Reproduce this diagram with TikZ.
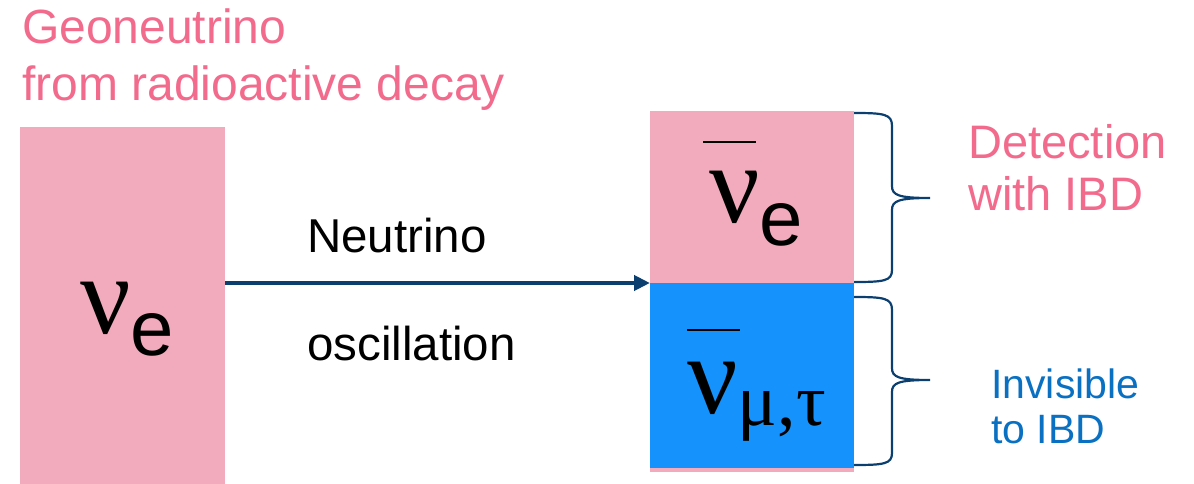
\documentclass[tikz,border=0pt]{standalone}
\usepackage{fontspec}
\setmainfont{Liberation Sans}
\newfontfamily\grkfont{Liberation Serif}
\definecolor{boxpink}{HTML}{F2ABBD}
\definecolor{boxblue}{HTML}{1592FB}
\definecolor{txtpink}{HTML}{F26A8C}
\definecolor{txtblue}{HTML}{0A70C2}
\definecolor{navy}{HTML}{0B3F70}
\tikzset{
  lbl/.style={inner sep=0pt, anchor=base west, align=left},
  pinktxt/.style={lbl, text=txtpink},
  nufnt/.style={lbl, font=\grkfont\fontsize{112}{112}\selectfont},
  brace/.style={draw=navy, line width=2.2pt},
  arr/.style={draw=navy, line width=4.5pt, -{Triangle[length=16pt,width=15pt]}},
}
\usetikzlibrary{arrows.meta}
\begin{document}
\begin{tikzpicture}[x=1pt,y=-1pt]
\useasboundingbox (0,0) rectangle (1194,484);
% boxes
\fill[boxpink] (20,127) rectangle (225,484);
\coordinate (L) at (225,283);
\fill[boxpink] (650,111) rectangle (854,472);
\fill[boxblue] (650,283) rectangle (854,468);
\coordinate (R) at (650,283);
% titles
\node[pinktxt, font=\fontsize{48}{54}\selectfont] (t1) at (22,44) {Geoneutrino};
\node[pinktxt, font=\fontsize{48}{54}\selectfont] (t2) at (22,101) {from radioactive decay};
% arrow
\draw[arr] (L) -- (R);
\node[lbl, font=\fontsize{47.5}{54}\selectfont] (n1) at (307,252) {Neutrino};
\node[lbl, font=\fontsize{47.5}{54}\selectfont] (n2) at (307,360) {oscillation};
% symbols
\node[nufnt] (nuL) at (80,333) {ν\lower22pt\hbox{\rmfamily\fontsize{78}{78}\selectfont e}};
\node[nufnt] (nuA) at (709,222) {\kern-6pt\rlap{\raisebox{79pt}{\rule{53pt}{2.2pt}}}\kern6pt ν\lower23pt\hbox{\rmfamily\fontsize{78}{78}\selectfont e}};
\node[nufnt] (nuB) at (687,413) {\rlap{\raisebox{82pt}{\rule{53pt}{2.2pt}}}ν\lower12pt\hbox{\grkfont\fontsize{74}{74}\selectfont μ,τ}};
% braces
\draw[brace] (854,113) .. controls (884,113) and (892,114) .. (892,126) -- (892,186)
  .. controls (892,195) and (898,198) .. (930,198)
  .. controls (898,198) and (892,201) .. (892,210) -- (892,270)
  .. controls (892,281) and (884,282) .. (854,282);
\draw[brace] (854,297) .. controls (884,297) and (892,298) .. (892,310) -- (892,368)
  .. controls (892,377) and (898,380) .. (930,380)
  .. controls (898,380) and (892,383) .. (892,392) -- (892,453)
  .. controls (892,464) and (884,465) .. (854,465);
% right labels
\node[pinktxt, font=\fontsize{47}{54}\selectfont] (d1) at (968,158) {Detection};
\node[pinktxt, font=\fontsize{47}{54}\selectfont] (d2) at (968,210) {with IBD};
\node[lbl, text=txtblue, font=\fontsize{41}{50}\selectfont] (i1) at (991,398) {Invisible};
\node[lbl, text=txtblue, font=\fontsize{41}{50}\selectfont] (i2) at (991,443) {to IBD};
\end{tikzpicture}
\end{document}
